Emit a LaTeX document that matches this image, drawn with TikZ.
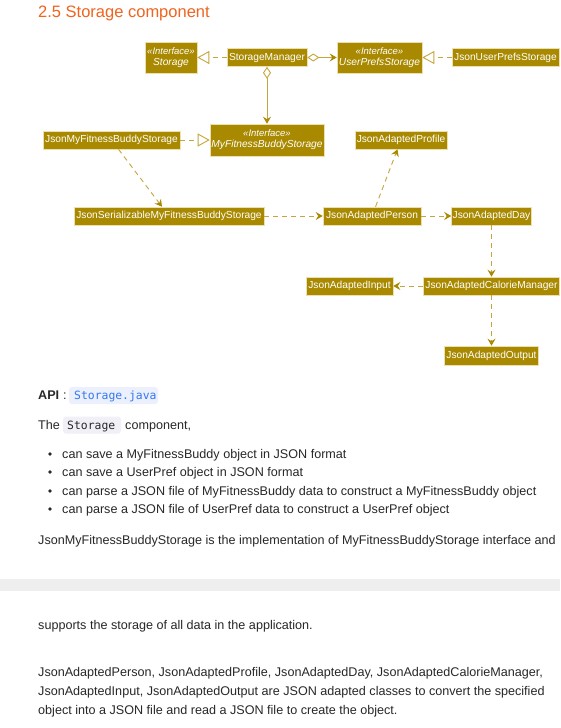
\documentclass[tikz,border=0pt]{standalone}
\usepackage{fontspec}
\setmainfont{Liberation Sans}
\setmonofont{DejaVu Sans Mono}
\usetikzlibrary{arrows.meta}
\definecolor{umlfill}{RGB}{168,137,0}
\definecolor{umlline}{RGB}{196,166,60}
\definecolor{umlborder}{RGB}{236,224,176}
\definecolor{titleor}{RGB}{240,100,30}
\definecolor{bodytext}{RGB}{40,40,40}
\definecolor{apibg}{RGB}{236,240,252}
\definecolor{apitext}{RGB}{50,120,240}
\definecolor{codebg}{RGB}{241,239,248}
\definecolor{bandgray}{RGB}{238,238,238}
\begin{document}
\begin{tikzpicture}[x=1pt,y=-1pt,
  cls/.style={draw=umlborder, line width=0.6pt, fill=umlfill, text=white,
    font=\fontsize{10.2}{11}\selectfont, inner sep=0pt, minimum height=18pt},
  ifc/.style={cls, align=center, font=\itshape\fontsize{10.2}{11}\selectfont},
  conn/.style={draw=umlline, line width=0.9pt},
  dep/.style={conn, dash pattern=on 5pt off 4pt,
    -{Stealth[length=7pt,width=8pt,inset=2.5pt,color=umlfill]}},
  real/.style={conn, dash pattern=on 5pt off 4pt,
    -{Triangle[open,length=12pt,width=13pt,fill=white]}},
  agg/.style={conn, {Diamond[open,length=12pt,width=8pt,fill=white]}-{Stealth[length=7pt,width=8pt,inset=2.5pt,color=umlfill]}},
  body/.style={anchor=base west, inner sep=0pt, text=bodytext, font=\fontsize{12.6}{15}\selectfont},
  mono/.style={anchor=base west, inner sep=0pt, font=\ttfamily\fontsize{11.4}{14}\selectfont},
  bul/.style={circle, fill=bodytext, inner sep=0pt, minimum size=3.8pt}
]
\useasboundingbox (0,0) rectangle (560,728);
\fill[white] (0,0) rectangle (560,728);

% title
\node[anchor=base west, inner sep=0pt, text=titleor, font=\fontsize{16.5}{20}\selectfont] (title) at (38,17) {2.5 Storage component};

% classes
\node[ifc, minimum width=52pt, minimum height=31pt] (storage) at (171,57.5) {{\fontsize{9.5}{11}\selectfont «Interface»}\\Storage};
\node[cls, minimum width=80pt] (mgr) at (267,57.5) {StorageManager};
\node[ifc, minimum width=85pt, minimum height=31pt] (ups) at (379.5,57.5) {{\fontsize{9.5}{11}\selectfont «Interface»}\\UserPrefsStorage};
\node[cls, minimum width=107pt] (jups) at (505.5,57.5) {JsonUserPrefsStorage};
\node[cls, minimum width=137pt] (jmfb) at (111.5,140) {JsonMyFitnessBuddyStorage};
\node[ifc, minimum width=114pt, minimum height=32pt] (mfbs) at (267,140) {{\fontsize{9.5}{11}\selectfont «Interface»}\\MyFitnessBuddyStorage};
\node[cls, minimum width=92pt] (prof) at (401,140) {JsonAdaptedProfile};
\node[cls, minimum width=190pt] (jser) at (169,216) {JsonSerializableMyFitnessBuddyStorage};
\node[cls, minimum width=98pt] (pers) at (372,216) {JsonAdaptedPerson};
\node[cls, minimum width=80pt] (day) at (491.5,216) {JsonAdaptedDay};
\node[cls, minimum width=87pt] (inp) at (349.5,286) {JsonAdaptedInput};
\node[cls, minimum width=136pt] (cal) at (491.5,286) {JsonAdaptedCalorieManager};
\node[cls, minimum width=94pt, minimum height=19pt] (out) at (491.5,355.5) {JsonAdaptedOutput};

% connectors
\draw[real] (mgr) -- (storage);
\draw[agg] (mgr) -- (ups);
\draw[real] (jups) -- (ups);
\draw[agg] (mgr) -- (mfbs);
\draw[real] (jmfb) -- (mfbs);
\draw[dep] (jmfb) -- (jser);
\draw[dep] (jser) -- (pers);
\draw[dep] (pers) -- (prof);
\draw[dep] (pers) -- (day);
\draw[dep] (day) -- (cal);
\draw[dep] (cal) -- (inp);
\draw[dep] (cal) -- (out);

% text section
\node[body, font=\bfseries\fontsize{12.6}{15}\selectfont] (api) at (38,399) {API};
\node[body] (colon) at (63,399) {:};
\node[fill=apibg, rounded corners=3pt, minimum width=89pt, minimum height=17pt, inner sep=0pt] (apibox) at (113.5,395.5) {};
\node[mono, text=apitext] (apicode) at (74,399) {Storage.java};

\node[body] (the) at (38,429) {The};
\node[fill=codebg, rounded corners=3pt, minimum width=58pt, minimum height=17pt, inner sep=0pt] (codebox) at (92,425) {};
\node[mono, text=bodytext] (code) at (67,429) {Storage};
\node[body] (comp) at (125,429) {component,};

\node[bul] (b1) at (50,454) {};
\node[body] (t1) at (62,458.5) {can save a MyFitnessBuddy object in JSON format};
\node[bul] (b2) at (50,472) {};
\node[body] (t2) at (62,476.5) {can save a UserPref object in JSON format};
\node[bul] (b3) at (50,491) {};
\node[body] (t3) at (62,495.5) {can parse a JSON file of MyFitnessBuddy data to construct a MyFitnessBuddy object};
\node[bul] (b4) at (50,509) {};
\node[body] (t4) at (62,513.5) {can parse a JSON file of UserPref data to construct a UserPref object};

\node[body] (p1) at (38,544) {JsonMyFitnessBuddyStorage is the implementation of MyFitnessBuddyStorage interface and};

\node[fill=bandgray, minimum width=560pt, minimum height=12pt, inner sep=0pt] (band) at (280,585) {};

\node[body] (p2) at (38,629) {supports the storage of all data in the application.};

\node[body] (p3a) at (38,676.5) {JsonAdaptedPerson, JsonAdaptedProfile, JsonAdaptedDay, JsonAdaptedCalorieManager,};
\node[body] (p3b) at (38,695.5) {JsonAdaptedInput, JsonAdaptedOutput are JSON adapted classes to convert the specified};
\node[body] (p3c) at (38,714.5) {object into a JSON file and read a JSON file to create the object.};
\end{tikzpicture}
\end{document}
